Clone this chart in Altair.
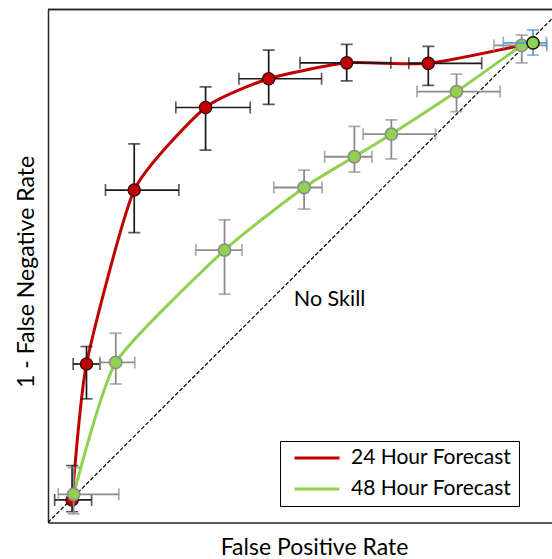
import altair as alt
import pandas as pd

series_names = ["24 Hour Forecast", "48 Hour Forecast"]

red_x = [0.047, 0.075, 0.168, 0.307, 0.430, 0.582, 0.741, 0.945]
red_y = [0.044, 0.309, 0.648, 0.809, 0.865, 0.896, 0.895, 0.935]
red_x_lo = [0.013, 0.049, 0.112, 0.249, 0.372, 0.491, 0.703, 0.887]
red_x_hi = [0.085, 0.101, 0.255, 0.394, 0.533, 0.668, 0.845, 0.971]
red_y_lo = [0.021, 0.241, 0.565, 0.726, 0.815, 0.861, 0.852, 0.911]
red_y_hi = [0.111, 0.343, 0.738, 0.849, 0.921, 0.932, 0.928, 0.960]

green_x = [0.050, 0.132, 0.344, 0.499, 0.597, 0.669, 0.796, 0.923]
green_y = [0.055, 0.312, 0.531, 0.653, 0.713, 0.757, 0.840, 0.930]
green_x_lo = [0.020, 0.101, 0.288, 0.440, 0.539, 0.614, 0.719, 0.869]
green_x_hi = [0.138, 0.169, 0.378, 0.534, 0.631, 0.755, 0.881, 0.972]
green_y_lo = [0.017, 0.270, 0.445, 0.611, 0.683, 0.709, 0.801, 0.896]
green_y_hi = [0.107, 0.369, 0.590, 0.687, 0.772, 0.785, 0.874, 0.950]

diag_vals = [0.0, 1.0]
no_skill_label = "No Skill"
no_skill_pos = [0.479, 0.423]

rows = []
for name, xs, ys, xl, xh, yl, yh in [
    (series_names[0], red_x, red_y, red_x_lo, red_x_hi, red_y_lo, red_y_hi),
    (series_names[1], green_x, green_y, green_x_lo, green_x_hi, green_y_lo, green_y_hi),
]:
    for i in range(len(xs)):
        rows.append(dict(series=name, i=i, x=xs[i], y=ys[i], xlo=xl[i], xhi=xh[i], ylo=yl[i], yhi=yh[i]))
df = pd.DataFrame(rows)
diag = pd.DataFrame({"x": diag_vals, "y": diag_vals})
label_df = pd.DataFrame({"x": [no_skill_pos[0]], "y": [no_skill_pos[1]], "t": [no_skill_label]})

FONT = "Lato"
FRAME = "#262626"
RED = "#c00000"
GREEN = "#92d050"

xscale = alt.Scale(domain=[0, 0.982], nice=False, zero=False)
yscale = alt.Scale(domain=[0, 1], nice=False, zero=False)
xaxis = alt.Axis(title="False Positive Rate", labels=False, ticks=False, grid=False,
                 domainColor=FRAME, domainWidth=1.5, titleFont=FONT, titleFontSize=23,
                 titleFontWeight="normal", titleColor="black", titleX=266, titleY=32,
                 titleAlign="center", titleBaseline="alphabetic")
yaxis = alt.Axis(title="1 - False Negative Rate", labels=False, ticks=False, grid=False,
                 domainColor=FRAME, domainWidth=1.5, titleFont=FONT, titleFontSize=23,
                 titleFontWeight="normal", titleColor="black", titleX=-15, titleY=262,
                 titleAngle=-90, titleAlign="center", titleBaseline="alphabetic")


def X(f):
    return alt.X(f"{f}:Q", scale=xscale, axis=xaxis)


def Y(f):
    return alt.Y(f"{f}:Q", scale=yscale, axis=yaxis)


base = alt.Chart(df)

top_border = alt.Chart(diag).mark_rule(color=FRAME, strokeWidth=1.5).encode(y=alt.value(0))

diag_line = alt.Chart(diag).mark_line(color="black", strokeWidth=1.2, strokeDash=[4, 2], clip=True).encode(
    x=X("x"), y=Y("y"))

no_skill = alt.Chart(label_df).mark_text(align="left", baseline="alphabetic", font=FONT,
                                          fontSize=21.5, color="black").encode(
    x=X("x"), y=Y("y"), text="t:N")

lines = base.mark_line(strokeWidth=3, interpolate="cardinal", tension=0.45, clip=True).encode(
    x=X("x"), y=Y("y"), order="i:Q",
    color=alt.Color("series:N", scale=alt.Scale(domain=series_names, range=[RED, GREEN]),
                    sort=series_names,
                    legend=alt.Legend(orient="none", legendX=232, legendY=431.5, title=None,
                                      symbolType="stroke", symbolSize=2025, symbolStrokeWidth=3,
                                      labelFont=FONT, labelFontSize=21, labelColor="black",
                                      labelLimit=400,
                                      strokeColor="black", fillColor="white", padding=7,
                                      clipHeight=20, rowPadding=10, symbolOffset=6,
                                      labelOffset=10,
                                      labelExpr="datum.label + '\u00a0\u00a0\u00a0\u00a0\u00a0\u00a0\u00a0'")))
# draw green line first, red on top
lines_green = lines.transform_filter(alt.datum.series == series_names[1])
lines_red = lines.transform_filter(alt.datum.series == series_names[0])


def errbars(sel, color, width):
    b = base.transform_filter(sel)
    xb = b.mark_rule(color=color, strokeWidth=width, clip=True).encode(x=X("xlo"), x2="xhi", y=Y("y"))
    yb = b.mark_rule(color=color, strokeWidth=width, clip=True).encode(x=X("x"), y=Y("ylo"), y2="yhi")
    c1 = b.mark_tick(color=color, thickness=width, size=12, orient="horizontal", clip=True).encode(x=X("x"), y=Y("ylo"))
    c2 = b.mark_tick(color=color, thickness=width, size=12, orient="horizontal", clip=True).encode(x=X("x"), y=Y("yhi"))
    c3 = b.mark_tick(color=color, thickness=width, size=12, orient="vertical", clip=True).encode(x=X("xlo"), y=Y("y"))
    c4 = b.mark_tick(color=color, thickness=width, size=12, orient="vertical", clip=True).encode(x=X("xhi"), y=Y("y"))
    return [xb, yb, c1, c2, c3, c4]


red_sel = (alt.datum.series == series_names[0]) & (alt.datum.i < 7)
last_sel = (alt.datum.series == series_names[0]) & (alt.datum.i == 7)
green_sel = alt.datum.series == series_names[1]

red_pts = base.transform_filter(red_sel).mark_point(shape="circle", filled=True, size=150, fill=RED,
                                                     stroke="#3a0a0a", strokeWidth=1.3, opacity=1).encode(
    x=X("x"), y=Y("y"))
green_pts = base.transform_filter(green_sel).mark_point(shape="circle", filled=True, size=150, fill=GREEN,
                                                         stroke="#8c8c8c", strokeWidth=1.6, opacity=1).encode(
    x=X("x"), y=Y("y"))
last_pt = base.transform_filter(last_sel).mark_point(shape="circle", filled=True, size=150, fill=GREEN,
                                                      stroke="#111111", strokeWidth=1.5, opacity=1).encode(
    x=X("x"), y=Y("y"))

layers = [top_border, diag_line, no_skill, lines_green, lines_red]
layers += errbars(red_sel, "#1a1a1a", 1.7)
layers += [red_pts]
layers += errbars(green_sel, "#8c8c8c", 1.8)
layers += [green_pts]
layers += errbars(last_sel, "#5b9bd5", 1.8)
layers += [last_pt]

chart = alt.layer(*layers).properties(
    width=504, height=513,
    padding={"left": 48, "top": 9.5, "right": 0, "bottom": 36},
    autosize=alt.AutoSizeParams(type="none"),
    background="white",
).configure_view(stroke=None)

chart.save("out.html", embed_options={"renderer": "svg", "actions": False})
